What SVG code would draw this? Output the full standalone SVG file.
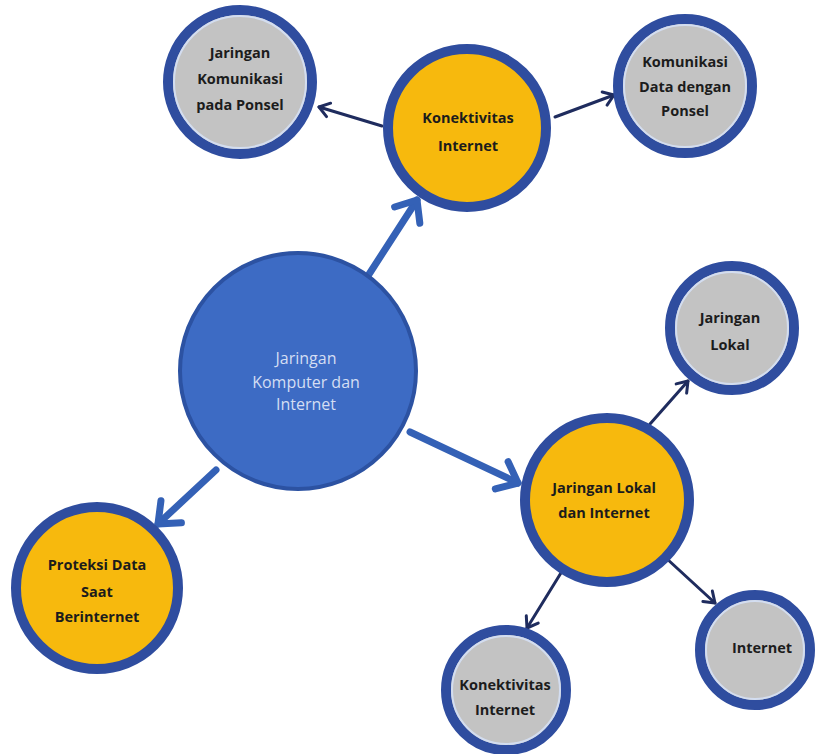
<svg xmlns="http://www.w3.org/2000/svg" width="815" height="754" viewBox="0 0 815 754">
<defs>
<style>
.ring{stroke:#2f4d9f;stroke-width:10}
.gray{fill:#c3c3c3}
.orange{fill:#f7b90d}
.inner{fill:none;stroke:#d3ddf0;stroke-width:2}
.lbl{font-family:"Open Sans","Liberation Sans",sans-serif;font-weight:700;font-size:14.5px;fill:#1c1c1c;text-anchor:middle}
.lblc{font-family:"Open Sans","Liberation Sans",sans-serif;font-weight:400;font-size:16px;fill:#d4def3;text-anchor:middle}
.thick{stroke:#3461b6;stroke-width:7;fill:none;stroke-linecap:round}
.thin{stroke:#1f2c5e;stroke-width:3;fill:none;stroke-linecap:round}
</style>
<marker id="ah-thick" markerUnits="userSpaceOnUse" viewBox="-24 -18 28 36" markerWidth="28" markerHeight="36" refX="0" refY="0" orient="auto" overflow="visible">
<path d="M-18,-15 L0,0 L-18,15" fill="none" stroke="#3461b6" stroke-width="7" stroke-linecap="round" stroke-linejoin="round"/>
</marker>
<marker id="ah-thin" markerUnits="userSpaceOnUse" viewBox="-14 -10 18 20" markerWidth="18" markerHeight="20" refX="0" refY="0" orient="auto" overflow="visible">
<path d="M-10,-7 L0,0 L-10,7" fill="none" stroke="#1f2c5e" stroke-width="3" stroke-linecap="round" stroke-linejoin="round"/>
</marker>
</defs>
<rect width="815" height="754" fill="#ffffff"/>
<g id="connectors">
<line class="thick" x1="364" y1="282" x2="417" y2="200" marker-end="url(#ah-thick)"/>
<line class="thick" x1="410" y1="432" x2="518" y2="483" marker-end="url(#ah-thick)"/>
<line class="thick" x1="216" y1="470" x2="158" y2="524" marker-end="url(#ah-thick)"/>
<line class="thin" x1="382" y1="126" x2="319" y2="107" marker-end="url(#ah-thin)"/>
<line class="thin" x1="555" y1="117" x2="614" y2="95" marker-end="url(#ah-thin)"/>
<line class="thin" x1="650" y1="424" x2="688" y2="381" marker-end="url(#ah-thin)"/>
<line class="thin" x1="564" y1="568" x2="527" y2="628" marker-end="url(#ah-thin)"/>
<line class="thin" x1="666" y1="558" x2="715" y2="603" marker-end="url(#ah-thin)"/>
</g>
<g id="node-center">
<circle cx="298" cy="371" r="118" fill="#3d6bc4" stroke="#2c52a2" stroke-width="4"/>
<text class="lblc" x="306" y="364">Jaringan</text>
<text class="lblc" x="306" y="388">Komputer dan</text>
<text class="lblc" x="306" y="410">Internet</text>
</g>
<g id="node-konektivitas-top">
<circle class="ring orange" cx="467" cy="128" r="79"/>
<text class="lbl" x="468" y="123">Konektivitas</text>
<text class="lbl" x="468" y="151">Internet</text>
</g>
<g id="node-jaringan-komunikasi">
<circle class="ring gray" cx="240" cy="82" r="72"/>
<circle class="inner" cx="240" cy="82" r="66"/>
<text class="lbl" x="240" y="58">Jaringan</text>
<text class="lbl" x="240" y="84">Komunikasi</text>
<text class="lbl" x="240" y="110">pada Ponsel</text>
</g>
<g id="node-komunikasi-data">
<circle class="ring gray" cx="685" cy="86" r="67"/>
<circle class="inner" cx="685" cy="86" r="61"/>
<text class="lbl" x="685" y="67">Komunikasi</text>
<text class="lbl" x="685" y="92">Data dengan</text>
<text class="lbl" x="685" y="116">Ponsel</text>
</g>
<g id="node-jaringan-lokal">
<circle class="ring gray" cx="732" cy="328" r="62"/>
<circle class="inner" cx="732" cy="328" r="56"/>
<text class="lbl" x="730" y="323">Jaringan</text>
<text class="lbl" x="730" y="350">Lokal</text>
</g>
<g id="node-jaringan-lokal-internet">
<circle class="ring orange" cx="607" cy="500" r="82"/>
<text class="lbl" x="604" y="493">Jaringan Lokal</text>
<text class="lbl" x="604" y="518">dan Internet</text>
</g>
<g id="node-proteksi">
<circle class="ring orange" cx="97" cy="588" r="81"/>
<text class="lbl" x="97" y="570">Proteksi Data</text>
<text class="lbl" x="97" y="597">Saat</text>
<text class="lbl" x="97" y="622">Berinternet</text>
</g>
<g id="node-konektivitas-bottom">
<circle class="ring gray" cx="506" cy="690" r="60"/>
<circle class="inner" cx="506" cy="690" r="54"/>
<text class="lbl" x="505" y="690">Konektivitas</text>
<text class="lbl" x="505" y="715">Internet</text>
</g>
<g id="node-internet">
<circle class="ring gray" cx="755" cy="650" r="55"/>
<circle class="inner" cx="755" cy="650" r="49"/>
<text class="lbl" x="762" y="653">Internet</text>
</g>
</svg>
